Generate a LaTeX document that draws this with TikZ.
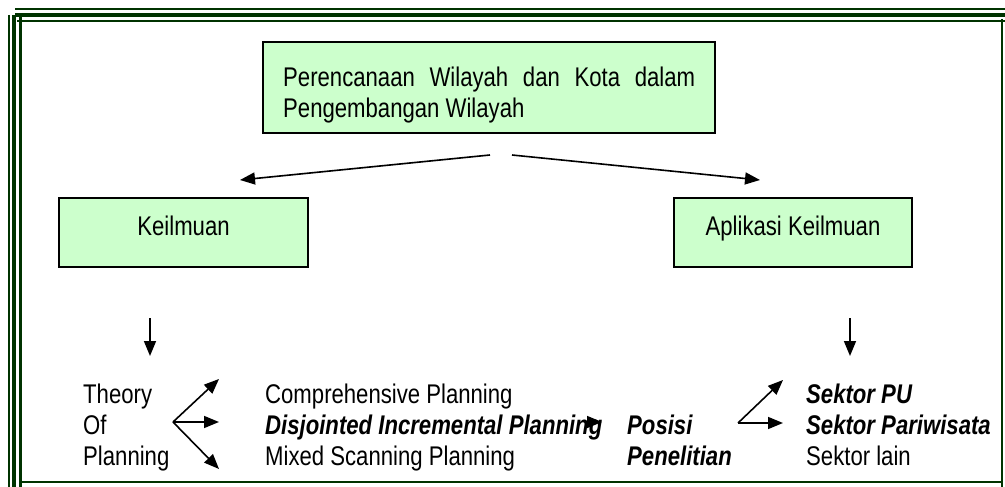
\documentclass[tikz,border=0pt]{standalone}
\usepackage{fontspec}
\setmainfont{Liberation Sans}[FakeStretch=0.82]
\usetikzlibrary{arrows.meta}
\definecolor{hijautua}{RGB}{0,51,0}
\definecolor{hijaumuda}{RGB}{204,255,204}
\begin{document}
\begin{tikzpicture}[x=1pt, y=-1pt,
    font=\fontsize{27}{31}\selectfont,
    bingkai/.style={draw=hijautua},
    kotak/.style={draw=black, line width=1.6pt, fill=hijaumuda, inner sep=0pt,
        text height=19pt, text depth=14pt},
    teks/.style={anchor=base west, inner sep=0pt},
    tebal/.style={font=\fontsize{27}{31}\selectfont\bfseries\itshape},
    panah/.style={line width=1.6pt, -{Triangle[length=15pt, width=12pt]}}]
    \useasboundingbox (0,0) rectangle (1005,487);

    % Bingkai
    \draw[bingkai, line width=1.5pt] (15,9) -- (1005,9);
    \draw[bingkai, line width=4pt] (15,15) -- (1005,15);
    \draw[bingkai, line width=2pt] (17,21) -- (1005,21);
    \draw[bingkai, line width=2pt] (8.5,15) -- (8.5,487);
    \draw[bingkai, line width=3.5pt] (14,15) -- (14,487);
    \draw[bingkai, line width=3pt] (20.5,17) -- (20.5,487);
    \draw[bingkai, line width=2.5pt] (1002,19) -- (1002,487);
    \draw[bingkai, line width=2.5pt] (20,482) -- (1002,482);

    % Kotak
    \node[kotak, minimum width=452pt, minimum height=91pt] (judul) at (489,87.5) {};
    \node[anchor=north west, inner sep=0pt, text width=412pt, align=justify]
        (judulteks) at (283,67) {Perencanaan Wilayah dan Kota dalam\linebreak Pengembangan Wilayah};
    \node[kotak, minimum width=249pt, minimum height=69pt] (ilmu) at (183.5,232.5) {Keilmuan};
    \node[kotak, minimum width=238pt, minimum height=69pt] (aplikasi) at (793,232.5) {Aplikasi Keilmuan};

    % Panah atas
    \coordinate (judulkiri) at (490,155);
    \coordinate (judulkanan) at (512,155);
    \coordinate (ilmuatas) at (240,180);
    \coordinate (aplikasiatas) at (760,180);
    \draw[panah] (judulkiri) -- (ilmuatas);
    \draw[panah] (judulkanan) -- (aplikasiatas);

    % Panah bawah
    \coordinate (ilmubawah) at (150,318);
    \coordinate (teoriatas) at (150,356);
    \coordinate (aplikasibawah) at (850,318);
    \coordinate (sektoratas) at (850,356);
    \draw[panah] (ilmubawah) -- (teoriatas);
    \draw[panah] (aplikasibawah) -- (sektoratas);

    % Teori
    \node[teks] (theory) at (83,403) {Theory};
    \node[teks] (of) at (83,434) {Of};
    \node[teks] (planning) at (83,465) {Planning};

    \node[teks] (komprehensif) at (265,403) {Comprehensive Planning};
    \node[teks, tebal] (disjointed) at (265,434) {Disjointed Incremental Planning};
    \node[teks] (mixed) at (265,465) {Mixed Scanning Planning};

    \node[teks, tebal] (posisi) at (627,434) {Posisi};
    \node[teks, tebal] (penelitian) at (627,465) {Penelitian};

    \node[teks, tebal] (sektorpu) at (806,403) {Sektor PU};
    \node[teks, tebal] (sektorpar) at (806,434) {Sektor Pariwisata};
    \node[teks] (sektorlain) at (806,465) {Sektor lain};

    % Cabang
    \coordinate (cabang) at (173,422);
    \draw[panah] (cabang) -- (219,379);
    \draw[panah] (cabang) -- (219,422);
    \draw[panah] (cabang) -- (219,469);

    \coordinate (keposisi) at (586,422);
    \draw[panah] (keposisi) -- (602,422);

    \coordinate (cabangposisi) at (738,423);
    \draw[panah] (cabangposisi) -- (783,380);
    \draw[panah] (cabangposisi) -- (783,423);
\end{tikzpicture}
\end{document}
